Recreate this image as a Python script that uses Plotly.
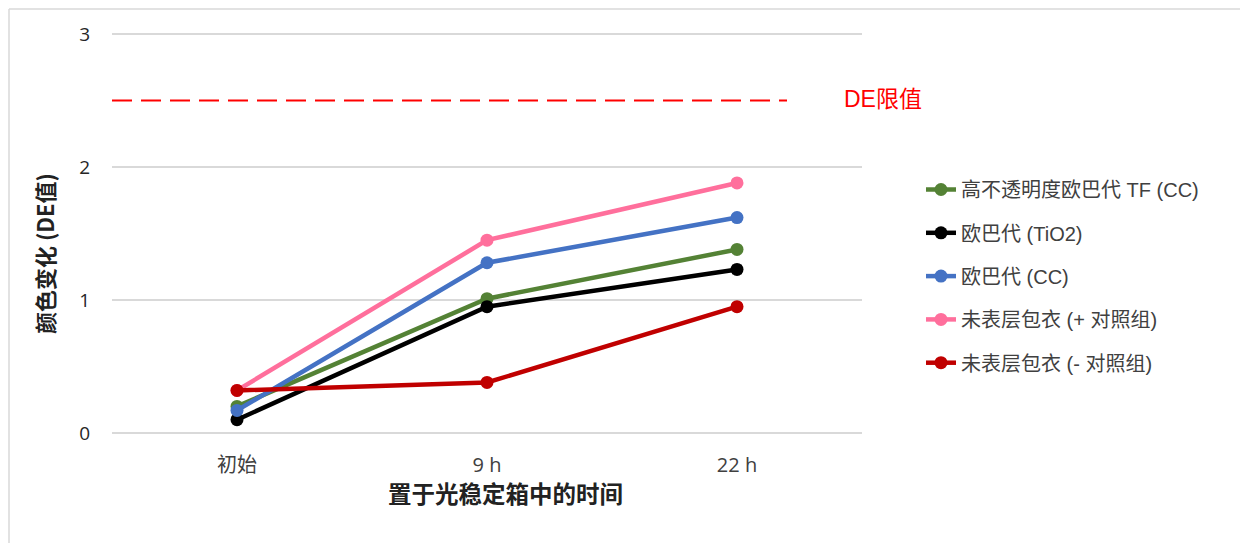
import plotly.graph_objects as go

categories = ["初始", "9 h", "22 h"]
series_names = ["高不透明度欧巴代 TF (CC)", "欧巴代 (TiO2)", "欧巴代 (CC)",
                "未表层包衣 (+ 对照组)", "未表层包衣 (- 对照组)"]
green_vals = [0.20, 1.01, 1.38]
black_vals = [0.10, 0.95, 1.23]
blue_vals = [0.17, 1.28, 1.62]
pink_vals = [0.32, 1.45, 1.88]
red_vals = [0.32, 0.38, 0.95]
black_err = [0.0, 0.0, 0.03]
de_limit = 2.5
y_ticks = [0, 1, 2, 3]

colors = ["#548235", "#000000", "#4472C4", "#FF6F9C", "#C00000"]
all_vals = [green_vals, black_vals, blue_vals, pink_vals, red_vals]

OFF = 8  # page body margin offset
W, H = 1248 - OFF, 543 - OFF
L, R = 112, 862
Y3, Y0 = 34, 433           # pixel rows of y=3 and y=0
PADPX = 3                  # extend plot area so edge gridlines are drawn
T, B = Y3 - PADPX, Y0 + PADPX
PAD = PADPX * 3 / (Y0 - Y3)


def px(x):
    return (x - L) / (R - L)


def py(y):
    return (B - y) / (B - T)


fig = go.Figure()
for i, (name, vals, col) in enumerate(zip(series_names, all_vals, colors)):
    kw = {}
    if i == 1:
        kw["error_y"] = dict(type="data", array=black_err, color="#404040",
                             thickness=1.5, width=5, visible=True)
    fig.add_trace(go.Scatter(
        x=categories, y=vals, name=name, mode="lines+markers",
        line=dict(color=col, width=4.5),
        marker=dict(color=col, size=13),
        legendgroup=str(i),
        **kw,
    ))

cjk = "Liberation Sans, Noto Sans CJK SC"

fig.update_layout(
    width=W, height=H,
    margin=dict(l=L - OFF, r=1248 - R, t=T - OFF, b=543 - B),
    paper_bgcolor="white", plot_bgcolor="white",
    showlegend=True,
    legend=dict(x=px(921), y=py(170), xanchor="left", yanchor="top",
                font=dict(family=cjk, size=20, color="#404040"),
                tracegroupgap=14.3, bgcolor="rgba(0,0,0,0)"),
    xaxis=dict(type="category", range=[-0.5, 2.5], showgrid=False,
               showline=False, zeroline=False, ticks="",
               ticklabelstandoff=15,
               tickfont=dict(family="Open Sans, Noto Sans CJK SC", size=20, color="#404040")),
    yaxis=dict(range=[0 - PAD, 3 + PAD], tickvals=y_ticks, showgrid=True,
               gridcolor="#D9D9D9", gridwidth=1.5, zeroline=False,
               showline=False, ticks="", ticklabelstandoff=21,
               tickfont=dict(family="Open Sans", size=19, color="#262626")),
    shapes=[
        dict(type="line", xref="x", yref="y", x0=-0.5, x1=2.2,
             y0=de_limit, y1=de_limit,
             line=dict(color="#FF0000", width=2, dash="20px,9px")),
        dict(type="line", xref="paper", yref="paper", x0=px(9), x1=px(1248),
             y0=py(9), y1=py(9), line=dict(color="#D9D9D9", width=1.5)),
        dict(type="line", xref="paper", yref="paper", x0=px(9), x1=px(9),
             y0=py(9), y1=py(543), line=dict(color="#D9D9D9", width=1.5)),
    ],
    annotations=[
        dict(text="<b>颜色变化 (DE值)</b>", xref="paper", yref="paper",
             x=px(44), y=py(254), xanchor="center", yanchor="middle",
             textangle=-90, showarrow=False,
             font=dict(family="Noto Sans CJK SC", size=22, color="#222222")),
        dict(text="<b>置于光稳定箱中的时间</b>", xref="paper", yref="paper",
             x=px(505), y=py(493), xanchor="center", yanchor="middle",
             showarrow=False,
             font=dict(family="Noto Sans CJK SC", size=23.5, color="#222222")),
        dict(text="DE限值", xref="paper", yref="paper",
             x=px(842), y=py(99), xanchor="left", yanchor="middle",
             showarrow=False,
             font=dict(family=cjk, size=23, color="#FF0000")),
    ],
)

fig.write_html("out.html")
